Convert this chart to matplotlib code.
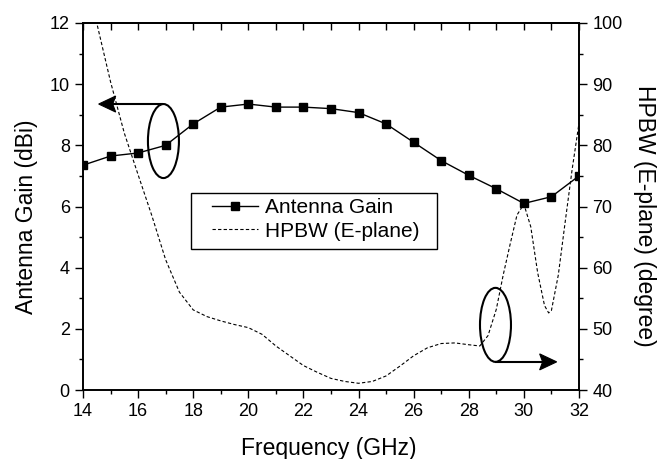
import matplotlib
matplotlib.use("Agg")
import matplotlib.pyplot as plt
from matplotlib.patches import Ellipse, Rectangle, Polygon
from matplotlib.ticker import MultipleLocator

plt.rcParams["font.family"] = ["Liberation Sans", "DejaVu Sans"]

# Antenna gain, one point per GHz
gain_freq = [14, 15, 16, 17, 18, 19, 20, 21, 22, 23, 24, 25, 26, 27, 28, 29, 30, 31, 32]
gain_dbi = [7.35, 7.65, 7.75, 8.0, 8.7, 9.25, 9.35, 9.25, 9.25, 9.2, 9.07,
            8.7, 8.1, 7.5, 7.02, 6.58, 6.1, 6.32, 7.0]

# HPBW (E-plane)
hpbw_freq = [14.0, 14.5, 15.0, 15.5, 16.0, 16.5, 17.0, 17.5, 18.0, 18.5, 19.0,
             19.5, 20.0, 20.5, 21.0, 21.5, 22.0, 22.5, 23.0, 23.5, 24.0, 24.5,
             25.0, 25.5, 26.0, 26.5, 27.0, 27.5, 28.0, 28.4, 28.7, 29.0, 29.25,
             29.5, 29.75, 30.0, 30.25, 30.5, 30.75, 30.9, 31.0, 31.25, 31.5,
             31.75, 32.0]
hpbw_deg = [107.5, 100.0, 90.4, 82.0, 75.2, 68.5, 61.3, 56.0, 53.1, 52.0, 51.3,
            50.7, 50.2, 49.1, 47.2, 45.6, 44.0, 42.9, 41.9, 41.4, 41.1, 41.4,
            42.3, 43.9, 45.6, 46.9, 47.6, 47.7, 47.4, 47.2, 48.9, 53.2, 58.8,
            63.8, 68.6, 70.4, 66.7, 59.2, 53.8, 52.6, 53.0, 58.8, 67.5,
            76.0, 83.6]

fig = plt.figure(figsize=(6.58, 4.59), dpi=100)
ax = fig.add_axes([0.1261, 0.1503, 0.7538, 0.7996])
ax2 = ax.twinx()

l1, = ax.plot(gain_freq, gain_dbi, "-s", color="black", lw=1.0, ms=6,
              label="Antenna Gain")
l2, = ax2.plot(hpbw_freq, hpbw_deg, color="black", lw=0.8, ls=(0, (3, 2)),
               label="HPBW (E-plane)")

ax.set_xlim(14, 32)
ax.set_ylim(0, 12)
ax2.set_ylim(40, 100)

ax.xaxis.set_major_locator(MultipleLocator(2))
ax.xaxis.set_minor_locator(MultipleLocator(1))
ax.yaxis.set_major_locator(MultipleLocator(2))
ax.yaxis.set_minor_locator(MultipleLocator(1))
ax2.yaxis.set_major_locator(MultipleLocator(10))
ax2.yaxis.set_minor_locator(MultipleLocator(5))

fs = 13
ax.tick_params(axis="both", which="major", direction="out", length=6,
               width=1, labelsize=fs, top=False)
ax.tick_params(axis="both", which="minor", direction="out", length=3,
               width=1, top=False)
ax2.tick_params(axis="y", which="major", direction="out", length=6,
                width=1, labelsize=fs)
ax2.tick_params(axis="y", which="minor", direction="out", length=3, width=1)

# top axis: inward ticks every GHz
sec = ax.secondary_xaxis("top")
sec.xaxis.set_major_locator(MultipleLocator(1))
sec.tick_params(direction="in", length=5, width=1, labeltop=False)
sec.spines["top"].set_linewidth(1.2)

for a in (ax, ax2):
    for s in a.spines.values():
        s.set_linewidth(1.2)

lfs = 16.5
fig.text(0.5, 1 - 455 / 459, "Frequency (GHz)", fontsize=lfs,
         ha="center", va="baseline")
fig.text(33 / 658, 1 - 217 / 459, "Antenna Gain (dBi)", fontsize=lfs,
         rotation=90, rotation_mode="anchor", ha="center", va="baseline")
fig.text(638 / 658, 1 - 216 / 459, "HPBW (E-plane) (degree)", fontsize=lfs,
         rotation=270, rotation_mode="anchor", ha="center", va="baseline")

# legend: entries without frame, frame drawn as a plain box
ax.add_patch(Rectangle((0.2177, 0.3842), 0.496, 0.1526, transform=ax.transAxes,
                       fill=False, ec="black", lw=1.0, zorder=6))
ax.legend(handles=[l1, l2], loc="upper left", bbox_to_anchor=(0.26, 0.522),
          fontsize=15, frameon=False, handlelength=2.2, handletextpad=0.35,
          borderpad=0, labelspacing=0.2, borderaxespad=0)

# ellipse + arrow markers (origin-style notched heads)
GX, GY = 27.56, 30.58  # pixels per data unit on the left axes


def pointer(x0, x1, y):
    d = 1 if x1 > x0 else -1
    ax.plot([x0, x1 - d * 13 / GX], [y, y], color="black", lw=1.5,
            solid_capstyle="butt", zorder=5)
    head = [(x1, y), (x1 - d * 17 / GX, y + 8 / GY),
            (x1 - d * 14 / GX, y), (x1 - d * 17 / GX, y - 8 / GY)]
    ax.add_patch(Polygon(head, closed=True, fc="black", ec="black", lw=0.8,
                         joinstyle="miter", zorder=6))


ax.add_patch(Ellipse((16.92, 8.14), 1.125, 2.42, fill=False, lw=1.5,
                     color="black", zorder=5))
pointer(16.92, 14.57, 9.35)
ax.add_patch(Ellipse((28.97, 2.13), 1.125, 2.42, fill=False, lw=1.5,
                     color="black", zorder=5))
pointer(28.97, 31.19, 0.92)

fig.savefig("out.png", dpi=100, facecolor="white")
